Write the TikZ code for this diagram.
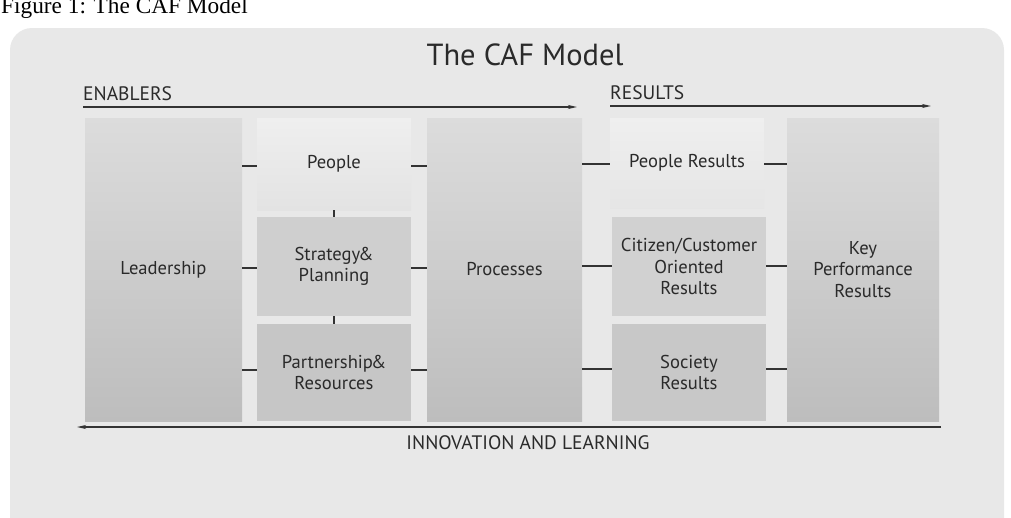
\documentclass[tikz,border=0pt]{standalone}
\usepackage{fontspec}
\setmainfont{PT Sans}
\newfontfamily\capfont{Liberation Serif}
\usetikzlibrary{arrows.meta}
\definecolor{panel}{HTML}{E8E8E8}
\definecolor{ink}{HTML}{2A2A2A}
\definecolor{lineink}{HTML}{333333}
\definecolor{coltop}{HTML}{DCDCDC}
\definecolor{colbot}{HTML}{BDBDBD}
\begin{document}
\begin{tikzpicture}[x=1pt,y=-1pt,
  col/.style={draw=none, inner sep=0pt, outer sep=0pt, anchor=north west,
    align=center, text=ink, font=\fontsize{18.6}{21.5}\selectfont},
  tall/.style={col, minimum height=303pt, top color=coltop, bottom color=colbot},
  link/.style={draw=lineink, line width=2.2pt},
  flow/.style={draw=lineink, line width=1.8pt, -{Stealth[length=9pt,width=4pt]}},
  lbl/.style={inner sep=0pt, text=ink, font=\fontsize{19.5}{22}\selectfont}]
\useasboundingbox (0,0) rectangle (1011,517);
\fill[white] (0,0) rectangle (1011,517);
\fill[panel, rounded corners=22pt] (10,28) rectangle (1004,570);
% caption
\node[inner sep=0pt, anchor=base west, font=\capfont\fontsize{23.3}{26}\selectfont] (cap) at (1,13) {Figure 1: The CAF Model};
% title
\node[inner sep=0pt, anchor=base, text=ink, font=\fontsize{30.5}{33}\selectfont] (title) at (525,65) {The CAF Model};
% enablers
\node[tall, minimum width=157pt] (lead) at (85,118) {Leadership};
\node[col, minimum width=154pt, minimum height=92pt, top color=panel!70!white, bottom color=gray!22] (ppl) at (257,118) {People};
\node[col, minimum width=154pt, minimum height=99pt, fill=gray!38] (strat) at (257,217) {Strategy\kern-2pt\&\\Planning};
\node[col, minimum width=154pt, minimum height=97pt, fill=gray!45] (part) at (257,324) {Partnership\kern-2pt\&\\Resources};
\node[tall, minimum width=155pt] (proc) at (427,118) {Processes};
% results
\node[col, minimum width=154pt, minimum height=90pt, top color=panel!70!white, bottom color=gray!20] (pres) at (610,118) {People Results};
\node[col, minimum width=154pt, minimum height=99pt, fill=gray!36] (cit) at (612,217) {Citizen/Customer\\Oriented\\Results};
\node[col, minimum width=154pt, minimum height=97pt, fill=gray!43] (soc) at (612,324) {Society\\Results};
\node[tall, minimum width=152pt] (kpr) at (787,118) {Key\\Performance\\Results};
% links
\draw[link] (lead.east |- 0,166) -- (ppl.west |- 0,166);
\draw[link] (lead.east |- 0,268) -- (strat.west |- 0,268);
\draw[link] (lead.east |- 0,370) -- (part.west |- 0,370);
\draw[link] (ppl.east |- 0,166) -- (proc.west |- 0,166);
\draw[link] (strat.east |- 0,268) -- (proc.west |- 0,268);
\draw[link] (part.east |- 0,370) -- (proc.west |- 0,370);
\draw[link] (ppl.south) -- (strat.north);
\draw[link] (strat.south) -- (part.north);
\draw[link] (proc.east |- 0,164) -- (pres.west |- 0,164);
\draw[link] (proc.east |- 0,266) -- (cit.west |- 0,266);
\draw[link] (proc.east |- 0,369) -- (soc.west |- 0,369);
\draw[link] (pres.east |- 0,164) -- (kpr.west |- 0,164);
\draw[link] (cit.east |- 0,266) -- (kpr.west |- 0,266);
\draw[link] (soc.east |- 0,369) -- (kpr.west |- 0,369);
% arrows
\coordinate (e1) at (83,107); \coordinate (e2) at (577,107);
\coordinate (r1) at (610,106); \coordinate (r2) at (931,106);
\coordinate (b1) at (941,427); \coordinate (b2) at (77,427);
\draw[flow] (e1) -- (e2);
\draw[flow] (r1) -- (r2);
\draw[flow] (b1) -- (b2);
\node[lbl, anchor=base west] (enab) at (83,100) {ENABLERS};
\node[lbl, anchor=base west] (resl) at (610,99) {RESULTS};
\node[lbl, anchor=base] (innov) at (528,449) {INNOVATION AND LEARNING};
\end{tikzpicture}
\end{document}
